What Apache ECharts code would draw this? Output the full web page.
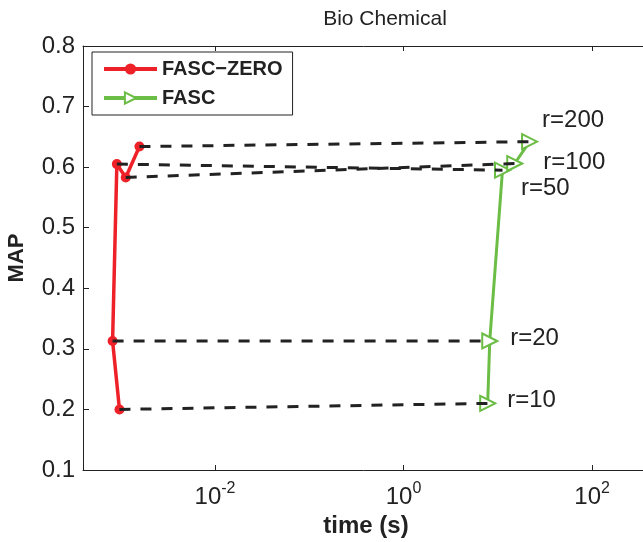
<!DOCTYPE html>
<html>
<head>
<meta charset="utf-8">
<script src="https://cdn.jsdelivr.net/npm/echarts@6/dist/echarts.min.js"></script>
<style>
html,body{margin:0;padding:0;background:#fff;}
#chart{width:643px;height:542px;}
</style>
</head>
<body>
<div id="chart"></div>
<script>
// ---- data ----
const rValues = [10, 20, 50, 100, 200];
const zeroTime = [9.7e-4, 8.2e-4, 9.1e-4, 1.13e-3, 1.58e-3];
const zeroMAP  = [0.200, 0.313, 0.605, 0.583, 0.634];
const fascTime = [7.8, 8.2, 11.2, 15.1, 21.7];
const fascMAP  = [0.210, 0.313, 0.595, 0.606, 0.642];
const xTickValues = [0.01, 1, 100];
const yMin = 0.1, yMax = 0.8, yStep = 0.1;
const xMin = Math.pow(10, -3.4), xMax = Math.pow(10, 2.9);

// ---- styles ----
const labelOffsets = [[11, -3], [12, -3], [10, 18], [20, -1], [4, -21]];
const RED = '#EE2128', GREEN = '#6BBD45';
const FONT = 'Liberation Sans, Arial, Helvetica, sans-serif';

const chart = echarts.init(document.getElementById('chart'), null, {renderer: 'canvas'});

function pairs(xs, ys) { return xs.map((x, i) => [x, ys[i]]); }

const dashSeries = rValues.map((r, i) => ({
  type: 'line',
  name: 'link' + r,
  data: [[zeroTime[i], zeroMAP[i]], [fascTime[i], fascMAP[i]]],
  showSymbol: false,
  symbol: 'none',
  silent: true,
  lineStyle: {color: '#222', width: 3, type: [11, 10]},
  z: 4,
  animation: false
}));

const fascData = rValues.map((r, i) => ({
  value: [fascTime[i], fascMAP[i]],
  label: {
    show: true,
    formatter: 'r=' + r,
    position: 'right',
    distance: 0,
    offset: labelOffsets[i],
    fontSize: 24,
    fontFamily: FONT,
    color: '#222'
  }
}));

const supLabel = v => {
  const n = Math.round(Math.log10(v));
  return '{b|10}{s|' + (n < 0 ? '-' : '') + Math.abs(n) + '}';
};

const option = {
  animation: false,
  backgroundColor: '#fff',
  title: {
    text: 'Bio Chemical',
    left: 380, top: 4, textAlign: 'center',
    textStyle: {fontFamily: FONT, fontSize: 21, fontWeight: 'normal', color: '#222'}
  },
  legend: {
    orient: 'vertical',
    left: 92, top: 52,
    data: ['FASC\u2212ZERO', 'FASC'],
    backgroundColor: '#fff',
    borderColor: '#222', borderWidth: 1,
    padding: [7, 10, 7, 10],
    itemWidth: 53, itemHeight: 14, itemGap: 9,
    lineStyle: {width: 4},
    textStyle: {fontFamily: FONT, fontSize: 20, fontWeight: 'bold', color: '#222'},
    z: 10
  },
  grid: {left: 83, width: 594, top: 46, bottom: 72, containLabel: false, outerBoundsMode: 'none'},
  xAxis: [{
    type: 'log', min: xMin, max: xMax, logBase: 10,
    position: 'bottom',
    name: 'time (s)', nameLocation: 'middle', nameGap: 35,
    nameTextStyle: {fontFamily: FONT, fontSize: 24, fontWeight: 'bold', color: '#222', padding: [0, 28, 0, 0]},
    axisLine: {lineStyle: {color: '#222', width: 1}},
    axisTick: {inside: true, length: 5, customValues: xTickValues, lineStyle: {color: '#222'}},
    axisLabel: {
      customValues: xTickValues, margin: 9,
      formatter: supLabel,
      rich: {
        b: {fontFamily: FONT, fontSize: 24, color: '#222', lineHeight: 30, verticalAlign: 'bottom'},
        s: {fontFamily: FONT, fontSize: 16, color: '#222', lineHeight: 16, verticalAlign: 'top', padding: [2, 0, 0, 0]}
      }
    },
    splitLine: {show: false},
    minorTick: {show: false}
  }, {
    type: 'log', min: xMin, max: xMax, logBase: 10,
    position: 'top',
    axisLine: {lineStyle: {color: '#222', width: 1}},
    axisTick: {inside: true, length: 5, customValues: xTickValues, lineStyle: {color: '#222'}},
    axisLabel: {show: false},
    splitLine: {show: false}
  }],
  yAxis: {
    type: 'value', min: yMin, max: yMax, interval: yStep,
    name: 'MAP', nameLocation: 'middle', nameGap: 55, nameRotate: 90,
    nameTextStyle: {fontFamily: FONT, fontSize: 22, fontWeight: 'bold', color: '#222'},
    axisLine: {show: true, lineStyle: {color: '#222', width: 1}},
    axisTick: {show: true, inside: true, length: 6, lineStyle: {color: '#222'}},
    axisLabel: {margin: 8, fontFamily: FONT, fontSize: 24, color: '#222', formatter: v => v.toFixed(1)},
    splitLine: {show: false}
  },
  series: [
    {
      type: 'line', name: 'FASC\u2212ZERO',
      data: pairs(zeroTime, zeroMAP),
      symbol: 'circle', symbolSize: 10,
      itemStyle: {color: RED},
      lineStyle: {color: RED, width: 3.5},
      z: 3
    },
    {
      type: 'line', name: 'FASC',
      data: fascData,
      symbol: 'emptyTriangle', symbolSize: 15, symbolRotate: -90,
      itemStyle: {color: GREEN, borderWidth: 2},
      lineStyle: {color: GREEN, width: 3},
      z: 3
    }
  ].concat(dashSeries)
};
chart.setOption(option);
</script>
</body>
</html>
